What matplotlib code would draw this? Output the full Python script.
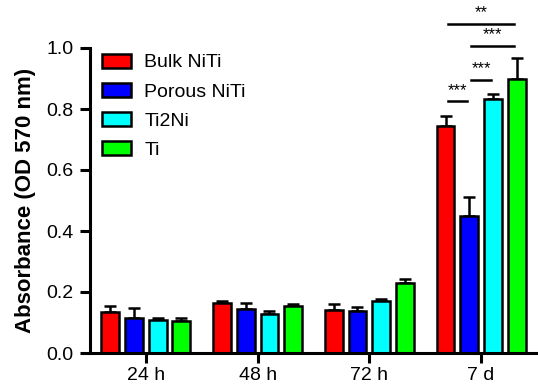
import matplotlib
matplotlib.use("Agg")
import matplotlib.pyplot as plt
import numpy as np

plt.rcParams['font.family'] = ['Liberation Sans', 'DejaVu Sans']

groups = ["24 h", "48 h", "72 h", "7 d"]
series = ["Bulk NiTi", "Porous NiTi", "Ti2Ni", "Ti"]
colors = ["#ff0000", "#0000ff", "#00ffff", "#00ff00"]
means = {
    "Bulk NiTi":   [0.135, 0.163, 0.141, 0.743],
    "Porous NiTi": [0.114, 0.145, 0.138, 0.449],
    "Ti2Ni":       [0.108, 0.128, 0.172, 0.833],
    "Ti":          [0.106, 0.155, 0.228, 0.900],
}
errs = {
    "Bulk NiTi":   [0.018, 0.009, 0.021, 0.033],
    "Porous NiTi": [0.033, 0.018, 0.012, 0.063],
    "Ti2Ni":       [0.008, 0.010, 0.004, 0.017],
    "Ti":          [0.009, 0.006, 0.015, 0.068],
}
# significance brackets on 7 d: (series i, series j, y, label)
sig = [(0, 1, 0.825, "***"), (1, 2, 0.895, "***"), (1, 3, 1.007, "***"), (0, 3, 1.079, "**")]

fig = plt.figure(figsize=(5.38, 3.87), dpi=100)
ax = fig.add_axes([90/538, 34/387, 1 - 90/538 - 0.002, (353-48)/387])

x = np.arange(len(groups))
step = 0.212
width = 0.16
offsets = (np.arange(len(series)) - 1.5) * step
for k, s in enumerate(series):
    xs = x + offsets[k]
    ax.bar(xs, means[s], width, color=colors[k], edgecolor='black', linewidth=1.8,
           label=s, zorder=2)
    ax.errorbar(xs, means[s], yerr=[np.zeros(len(groups)), errs[s]], fmt='none',
                ecolor='black', elinewidth=1.8, capsize=4, capthick=1.8, zorder=1)

gi = 3
for i, j, y, lab in sig:
    x0 = gi + offsets[i] + 0.02
    x1 = gi + offsets[j] - 0.02
    ax.plot([x0, x1], [y, y], color='black', lw=1.8, clip_on=False)
    ax.text((x0 + x1) / 2, y + 0.012, lab, ha='center', va='bottom', fontsize=12, clip_on=False)

ax.set_xlim(-0.5, 3.5)
ax.set_ylim(0, 1.0)
ax.set_yticks([0.0, 0.2, 0.4, 0.6, 0.8, 1.0])
ax.set_yticklabels(["0.0", "0.2", "0.4", "0.6", "0.8", "1.0"])
ax.set_xticks(x)
ax.set_xticklabels(groups)
ax.tick_params(axis='both', labelsize=14, width=2.2, length=7, direction='out', pad=3)
ax.tick_params(axis='y', pad=5)
ax.spines['top'].set_visible(False)
ax.spines['right'].set_visible(False)
ax.spines['left'].set_linewidth(2.2)
ax.spines['bottom'].set_linewidth(2.2)
ax.set_ylabel("Absorbance (OD 570 nm)", fontsize=16, fontweight='bold', labelpad=7)

leg = ax.legend(loc='upper left', bbox_to_anchor=(0.0, 1.02), frameon=False, fontsize=14,
                handlelength=1.5, handleheight=0.75, handletextpad=0.7, labelspacing=0.58,
                borderaxespad=0.4, borderpad=0.2)
for p in leg.get_patches():
    p.set_linewidth(1.8)

fig.savefig("out.png", dpi=100)
